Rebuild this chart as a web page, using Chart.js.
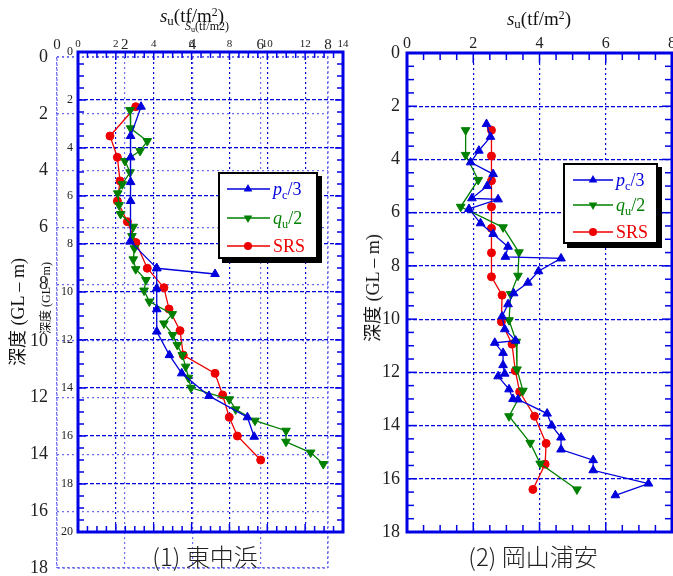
<!DOCTYPE html>
<html><head><meta charset="utf-8">
<script src="https://cdn.jsdelivr.net/npm/chart.js@4/dist/chart.umd.min.js"></script>
<style>
html,body{margin:0;padding:0;overflow:hidden;background:#fff;width:673px;height:576px;}
#wrap{position:relative;width:673px;height:576px;overflow:hidden;}
canvas{position:absolute;left:0;top:0;}
.t{position:absolute;font-family:"Liberation Serif","Times New Roman","Noto Sans CJK JP",serif;color:#111;white-space:nowrap;line-height:1;transform:translate(-50%,-50%);}
.rot{transform:translate(-50%,-50%) rotate(-90deg);}
.t sub{font-size:0.68em;vertical-align:-0.3em;line-height:0;}
.t sup{font-size:0.62em;vertical-align:0.45em;line-height:0;}
.cap{position:absolute;font-family:"Noto Sans CJK JP",sans-serif;font-weight:300;font-size:24px;color:#222;white-space:nowrap;line-height:1;transform:translate(-50%,-50%);}
.leg{position:absolute;box-sizing:border-box;border:2px solid #000;box-shadow:4px 4px 0 #000;background:#fff;}
.lt{position:absolute;font-family:"Liberation Serif","Times New Roman",serif;font-size:18px;white-space:nowrap;line-height:1;transform:translateY(-50%);}
.lt sub{font-size:0.68em;vertical-align:-0.3em;line-height:0;}
svg{position:absolute;left:0;top:0;}
</style></head>
<body><div id="wrap">
<canvas id="ghost" width="700" height="576"></canvas>
<canvas id="left" width="700" height="576"></canvas>
<canvas id="right" width="700" height="576"></canvas>

<div class="t" style="left:192px;top:15px;font-size:19px;"><i>s</i><sub>u</sub>(tf/m<sup>2</sup>)</div>
<div class="t" style="left:207px;top:26px;font-size:12px;"><i>S</i><sub>u</sub>(tf/m2)</div>
<div class="t" style="left:539px;top:18px;font-size:19px;"><i>s</i><sub>u</sub>(tf/m<sup>2</sup>)</div>
<div class="t rot" style="left:18px;top:312px;font-size:18px;">深度 (GL – m)</div>
<div class="t rot" style="left:46px;top:298px;font-size:12px;">深度 (GL – m)</div>
<div class="t rot" style="left:373px;top:288px;font-size:18px;">深度 (GL – m)</div>

<div class="leg" style="left:218px;top:172px;width:100px;height:87px;"></div>
<div class="leg" style="left:563px;top:163px;width:95px;height:81px;"></div>
<svg width="673" height="576" viewBox="0 0 673 576">
  <g stroke-width="1.3">
    <line x1="227" y1="189" x2="270" y2="189" stroke="#0000dd"/>
    <polygon points="248,184 243.7,191.5 252.3,191.5" fill="#0000dd"/>
    <line x1="227" y1="218" x2="270" y2="218" stroke="#008000"/>
    <polygon points="248,223 243.7,215.5 252.3,215.5" fill="#008000"/>
    <line x1="227" y1="246" x2="270" y2="246" stroke="#ee0000"/>
    <circle cx="248" cy="246" r="4" fill="#ee0000"/>
    <line x1="573" y1="180" x2="613" y2="180" stroke="#0000dd"/>
    <polygon points="593,175 588.7,182.5 597.3,182.5" fill="#0000dd"/>
    <line x1="573" y1="205" x2="613" y2="205" stroke="#008000"/>
    <polygon points="593,210 588.7,202.5 597.3,202.5" fill="#008000"/>
    <line x1="573" y1="232" x2="613" y2="232" stroke="#ee0000"/>
    <circle cx="593" cy="232" r="4" fill="#ee0000"/>
  </g>
</svg>
<span class="lt" style="left:273px;top:189px;color:#0000dd"><i>p</i><sub>c</sub>/3</span>
<span class="lt" style="left:273px;top:218px;color:#008000"><i>q</i><sub>u</sub>/2</span>
<span class="lt" style="left:273px;top:246px;color:#ee0000">SRS</span>
<span class="lt" style="left:616px;top:180px;color:#0000dd"><i>p</i><sub>c</sub>/3</span>
<span class="lt" style="left:616px;top:205px;color:#008000"><i>q</i><sub>u</sub>/2</span>
<span class="lt" style="left:616px;top:232px;color:#ee0000">SRS</span>

<div class="cap" style="left:205px;top:556px;">(1) 東中浜</div>
<div class="cap" style="left:533px;top:556px;">(2) 岡山浦安</div>
</div>
<script>
// ---------- (1) 東中浜 : su (tf/m2) vs depth (GL-m) ----------
const hgPcSu   = [3.33,2.78,2.78,2.78,2.78,2.75,4.16,7.24,4.16,4.16,4.16,4.16,4.83,5.48,6.92,8.95,9.31];
const hgPcDep  = [2.28,3.50,4.39,5.42,6.21,7.90,9.01,9.25,9.01,9.85,10.72,11.65,12.63,13.39,14.33,15.22,16.03];
const hgQuSu   = [2.75,2.78,3.66,3.28,2.48,2.75,2.34,2.10,2.17,2.25,2.92,2.85,2.98,2.92,3.05,3.59,3.49,3.77,4.98,4.54,5.00,5.25,5.51,5.69,5.83,5.97,7.99,8.33,9.35,10.99,10.99,12.29,12.96];
const hgQuDep  = [2.42,3.18,3.71,4.12,4.54,5.01,5.51,5.89,6.38,6.75,7.28,7.67,8.18,8.64,9.05,9.50,9.94,10.40,10.92,11.31,11.79,12.21,12.63,13.11,13.57,13.99,14.47,14.89,15.36,15.78,16.24,16.69,17.17];
const hgSrsSu  = [3.05,1.69,2.08,2.22,2.08,2.61,3.06,3.66,4.54,4.81,5.39,5.56,7.24,7.64,7.99,8.42,9.65];
const hgSrsDep = [2.28,3.50,4.39,5.37,6.21,7.07,7.94,9.01,9.82,10.71,11.61,12.63,13.39,14.29,15.22,16.00,17.00];

// ---------- (2) 岡山浦安 ----------
const okPcSu   = [2.40,2.52,2.17,1.92,2.60,2.42,1.96,2.75,1.87,2.22,2.60,3.05,2.97,4.65,3.97,3.65,3.22,3.05,2.87,2.95,3.28,2.65,2.90,2.90,2.95,2.75,3.08,3.20,3.35,4.23,4.37,4.65,4.65,5.62,5.62,7.29,6.29];
const okPcDep  = [2.67,3.15,3.67,4.11,4.55,5.00,5.46,5.50,5.86,6.40,6.80,7.28,7.66,7.72,8.20,8.63,9.03,9.44,9.90,10.38,10.81,10.89,11.27,11.73,12.05,12.15,12.64,13.00,13.02,13.55,14.00,14.45,14.90,15.30,15.68,16.18,16.62];
const okQuSu   = [1.77,1.77,2.15,1.62,2.90,3.38,3.35,3.13,3.08,3.30,3.32,3.50,3.08,3.72,4.02,5.13];
const okQuDep  = [2.90,3.83,4.77,5.78,6.55,7.49,8.37,9.06,10.04,10.85,11.89,12.69,13.65,14.65,15.43,16.40];
const okSrsSu  = [2.55,2.55,2.55,2.55,2.55,2.55,2.55,2.87,2.85,3.17,3.27,3.40,3.85,4.20,4.17,3.80];
const okSrsDep = [2.90,3.87,4.80,5.78,6.59,7.51,8.41,9.10,10.10,10.94,11.94,12.73,13.65,14.67,15.45,16.40];

// ---------- tick labels ----------
const hgXTicks    = [0,2,4,6,8,10,12,14];
const hgYTicks    = [0,2,4,6,8,10,12,14,16,18,20];
const ghostXTicks = [0,2,4,6,8];
const ghostYTicks = [0,2,4,6,8,10,12,14,16,18];
const okXTicks    = [0,2,4,6,8];
const okYTicks    = [0,2,4,6,8,10,12,14,16,18];

const FONT = '"Liberation Serif", "Times New Roman", serif';
const BLUE = '#0000dd', GREEN = '#008000', RED = '#ee0000';

function makeFrame(f) {
  return {
    id: 'frame',
    beforeDatasetsDraw(chart) {
      const ctx = chart.ctx, a = chart.chartArea;
      const xs = chart.scales.x, ys = chart.scales.y;
      ctx.save();
      ctx.strokeStyle = f.color;
      const ln = (x1, y1, x2, y2) => { ctx.beginPath(); ctx.moveTo(x1, y1); ctx.lineTo(x2, y2); ctx.stroke(); };
      if (f.minor) {
        ctx.lineWidth = f.tickWidth;
        const n = Math.round((f.xMax - f.xMin) / f.minor);
        for (let i = 0; i <= n; i++) {
          const p = xs.getPixelForValue(f.xMin + i * f.minor);
          const L = (i % f.every === 0) ? f.majorLen : f.minorLen;
          ln(p, a.top, p, a.top + L); ln(p, a.bottom, p, a.bottom - L);
        }
        const m = Math.round((f.yMax - f.yMin) / f.minor);
        for (let i = 0; i <= m; i++) {
          const p = ys.getPixelForValue(f.yMin + i * f.minor);
          const L = (i % f.every === 0) ? f.majorLen : f.minorLen;
          ln(a.left, p, a.left + L, p); ln(a.right, p, a.right - L, p);
        }
      }
      ctx.lineWidth = f.width;
      if (f.dash) ctx.setLineDash(f.dash);
      ctx.strokeRect(a.left, a.top, a.right - a.left, a.bottom - a.top);
      ctx.restore();
    }
  };
}

function pts(xs, ys) { return xs.map((x, i) => ({x: x, y: ys[i]})); }
function series(label, xs, ys, color, style, r, rot) {
  return { label, data: pts(xs, ys), showLine: true, borderColor: color, backgroundColor: color,
    borderWidth: 1.3, pointStyle: style, pointRadius: r, pointRotation: rot || 0, pointBorderWidth: 1,
    pointBorderColor: color, pointBackgroundColor: color, tension: 0, clip: false };
}

function makeChart(id, o) {
  const fr = Object.assign({xMin: o.xMin, xMax: o.xMax, yMin: o.yMin, yMax: o.yMax}, o.frame);
  return new Chart(document.getElementById(id), {
    type: 'scatter',
    data: { datasets: o.datasets },
    options: {
      responsive: false, animation: false, devicePixelRatio: 1, events: [],
      layout: { padding: o.padding },
      plugins: { legend: { display: false }, tooltip: { enabled: false } },
      scales: {
        x: { type: 'linear', position: 'top', min: o.xMin, max: o.xMax,
          afterBuildTicks: s => { s.ticks = o.xTicks.map(v => ({value: v})); },
          afterFit: s => { s.height = o.topH; s.paddingLeft = 0; s.paddingRight = 0; },
          ticks: { autoSkip: false, maxRotation: 0, padding: o.xPad, color: '#222', font: { family: FONT, size: o.xFont } },
          grid: { color: o.gridColor, lineWidth: 1.2, drawTicks: false },
          border: { display: false, dash: o.xDash } },
        y: { type: 'linear', position: 'left', reverse: true, min: o.yMin, max: o.yMax,
          afterBuildTicks: s => { s.ticks = o.yTicks.map(v => ({value: v})); },
          afterFit: s => { s.width = o.leftW; s.paddingTop = 0; s.paddingBottom = 0; },
          ticks: { autoSkip: false, padding: o.yPad, color: '#222', font: { family: FONT, size: o.yFont } },
          grid: { color: o.gridColor, lineWidth: 1.2, drawTicks: false },
          border: { display: false, dash: o.yDash } }
      }
    },
    plugins: [makeFrame(fr)]
  });
}

// ghost (overlapping second axis layer of panel 1)
makeChart('ghost', {
  datasets: [], xMin: 0, xMax: 8, yMin: 0, yMax: 18, xTicks: ghostXTicks, yTicks: ghostYTicks,
  padding: { left: 0, top: 0, right: 700 - 328, bottom: 576 - 568 }, topH: 57, leftW: 57,
  xPad: 3, yPad: 9, xFont: 15, yFont: 18, gridColor: '#6a6af0', xDash: [2, 3], yDash: [2, 3],
  frame: { color: '#6a6af0', width: 1.3, dash: [2, 3] }
});

// panel 1 main
makeChart('left', {
  datasets: [
    series('pc/3', hgPcSu, hgPcDep, BLUE, 'triangle', 5, 0),
    series('qu/2', hgQuSu, hgQuDep, GREEN, 'triangle', 5, 180),
    series('SRS', hgSrsSu, hgSrsDep, RED, 'circle', 4, 0)
  ],
  xMin: 0, xMax: 14, yMin: 0, yMax: 20, xTicks: hgXTicks, yTicks: hgYTicks,
  padding: { left: 0, top: 0, right: 700 - 343, bottom: 576 - 532 }, topH: 52, leftW: 78,
  xPad: 1, yPad: 5, xFont: 11, yFont: 12, gridColor: BLUE, xDash: [2, 3], yDash: [4, 2],
  frame: { color: '#0000e6', width: 3, tickWidth: 1.5, minor: 0.5, every: 4, minorLen: 6, majorLen: 8 }
});

// panel 2
makeChart('right', {
  datasets: [
    series('pc/3', okPcSu, okPcDep, BLUE, 'triangle', 5, 0),
    series('qu/2', okQuSu, okQuDep, GREEN, 'triangle', 5, 180),
    series('SRS', okSrsSu, okSrsDep, RED, 'circle', 4, 0)
  ],
  xMin: 0, xMax: 8, yMin: 0, yMax: 18, xTicks: okXTicks, yTicks: okYTicks,
  padding: { left: 0, top: 0, right: 700 - 672, bottom: 576 - 532 }, topH: 53, leftW: 407,
  xPad: 0, yPad: 7, xFont: 16, yFont: 18, gridColor: BLUE, xDash: [2, 3], yDash: [4, 2],
  frame: { color: '#0000e6', width: 3, tickWidth: 1.5, minor: 0.5, every: 4, minorLen: 7, majorLen: 10 }
});
</script>
</body></html>
